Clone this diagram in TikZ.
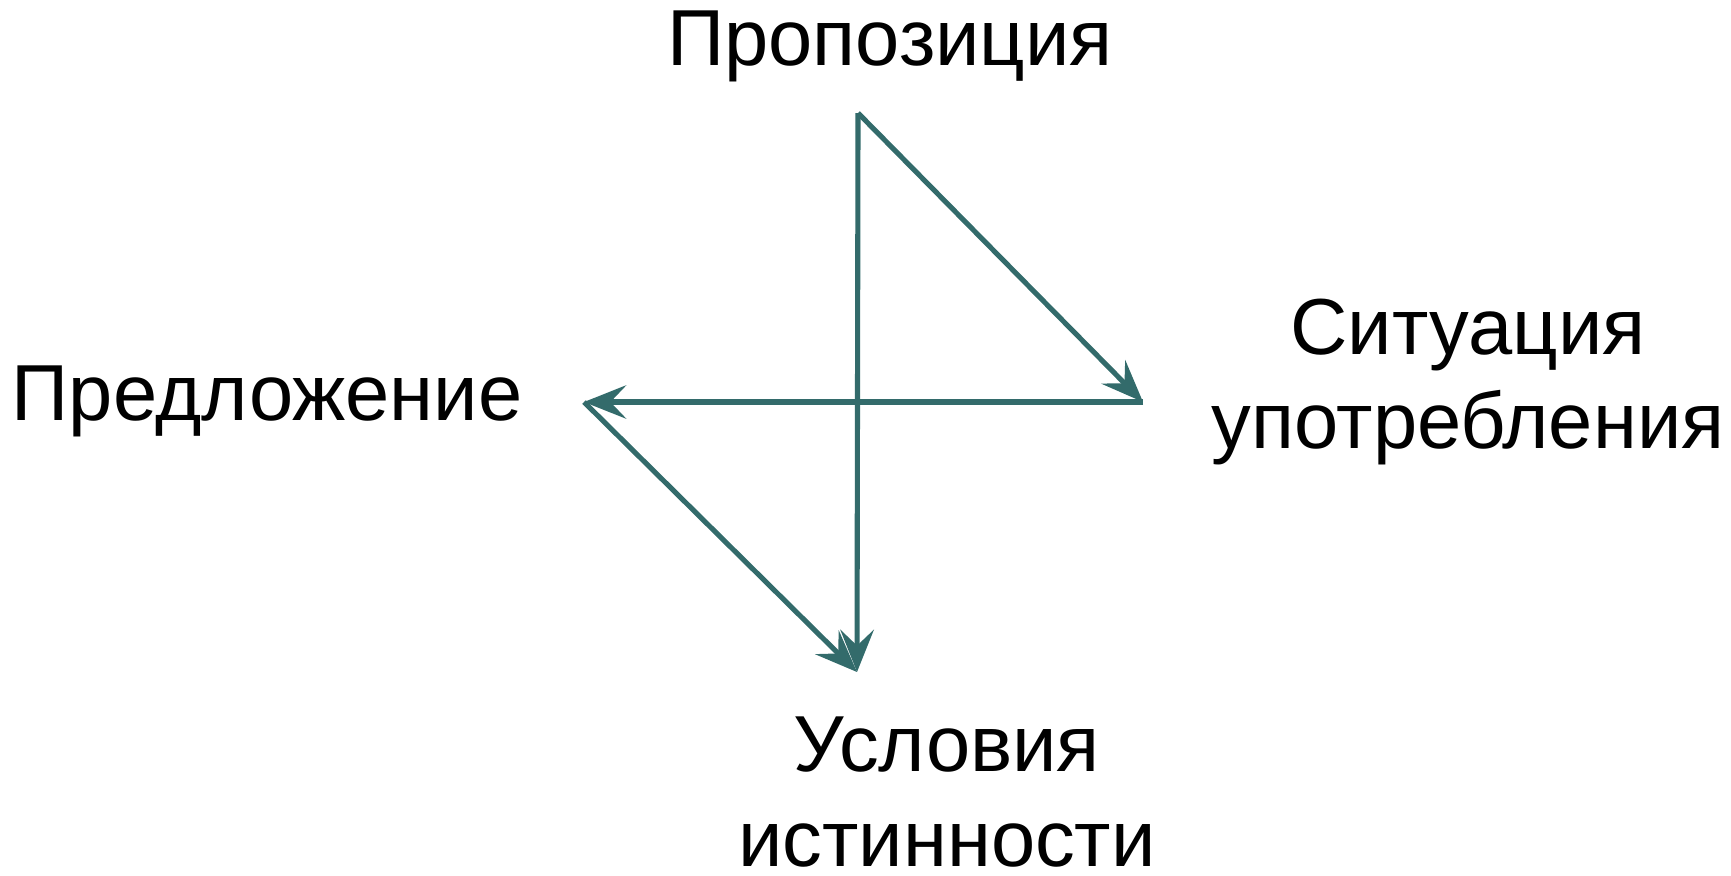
\documentclass[tikz,border=0pt]{standalone}
\usepackage{fontspec}
\setmainfont{Liberation Sans}
\usetikzlibrary{arrows.meta}
\definecolor{arrowteal}{HTML}{336B6B}

\tikzset{
    link/.style={line width=1.45pt, arrowteal, -{Stealth[length=12pt, width=9.5pt, inset=4.5pt]}},
    term/.style={align=center, font=\fontsize{22.6}{27}\selectfont, inner sep=0pt}
}

\begin{document}
\begin{tikzpicture}[x=0.01cm, y=-0.01cm]
        % Canvas
        \useasboundingbox (0, 0) rectangle (1731, 875);

        % Define corners
        \coordinate (P) at (858, 113);
        \coordinate (S) at (1143, 402);
        \coordinate (L) at (584, 402);
        \coordinate (U) at (857, 672);

        % Labels
        \node[term] (prop) at (890, 46) {Пропозиция};
        \node[term] (pred) at (267, 401) {Предложение};
        \node[term] (sit) at (1468, 382) {Ситуация\\употребления};
        \node[term] (usl) at (947, 792) {Условия\\истинности};

        % Draw arrows
        \draw[link] (P) -- (S);
        \draw[link] (S) -- (L);
        \draw[link] (L) -- (U);
        \draw[link] (P) -- (U);
\end{tikzpicture}
\end{document}
